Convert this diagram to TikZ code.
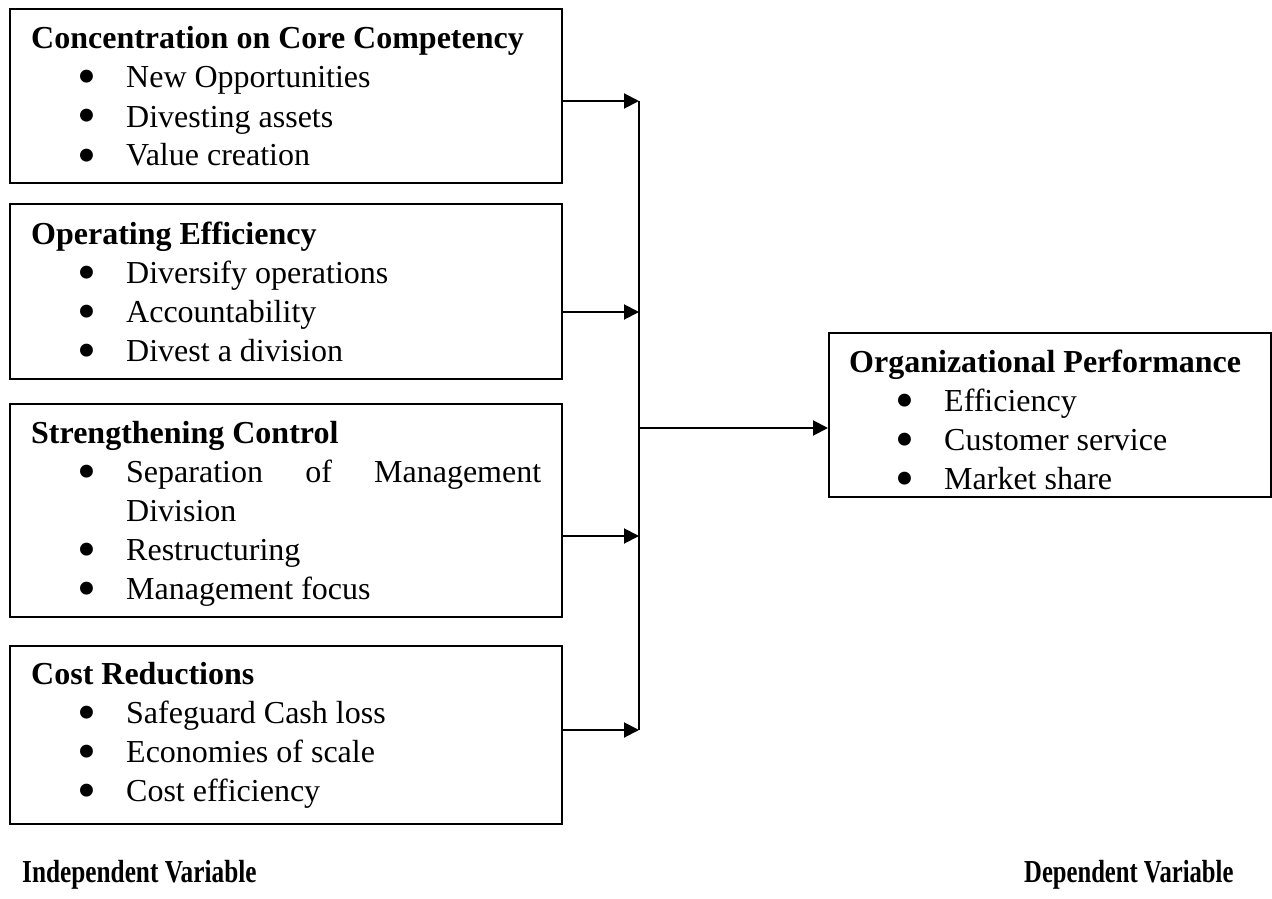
\documentclass[tikz,border=0pt]{standalone}
\usepackage{fontspec}
\usepackage{graphicx}
\setmainfont{Liberation Serif}
\usetikzlibrary{arrows.meta}

% bullet mark, enlarged and lowered to sit like a list bullet
\newcommand\bul{\raisebox{-7pt}{\fontsize{54}{54}\selectfont\char"2022}}
% one bulleted line: bullet column, then the item text
\newcommand\itm[1]{\par\hspace*{46pt}\makebox[49pt][l]{\bul}#1}
% continuation line of an item
\newcommand\cont[1]{\par\hspace*{95pt}#1}
% heading plus its list, first baseline at the node's base
\newcommand\boxtext[2]{\parbox[t]{560pt}{\bfseries #1\mdseries#2}}

\begin{document}
\begin{tikzpicture}[x=1pt,y=-1pt,
  framebox/.style={draw,line width=2pt,inner sep=0pt,anchor=north west},
  txt/.style={anchor=base west,inner sep=0pt,font=\fontsize{32}{39}\selectfont},
  wire/.style={line width=2pt},
  conn/.style={line width=2pt,-{Triangle[length=15pt,width=15pt]}},
  varlabel/.style={anchor=base west,inner sep=0pt,font=\fontsize{32}{39}\selectfont\bfseries}]
\useasboundingbox (0,0) rectangle (1272,899);

% independent-variable boxes
\node[framebox,minimum width=552pt,minimum height=174pt] (b1) at (9,8) {};
\node[framebox,minimum width=552pt,minimum height=175pt] (b2) at (9,203) {};
\node[framebox,minimum width=552pt,minimum height=213pt] (b3) at (9,403) {};
\node[framebox,minimum width=552pt,minimum height=178pt] (b4) at (9,645) {};

\node[txt] (t1) at (31,49) {\boxtext{Concentration on Core Competency}{%
  \itm{New Opportunities}\itm{Divesting assets}\itm{Value creation}}};
\node[txt] (t2) at (31,244) {\boxtext{Operating Efficiency}{%
  \itm{Diversify operations}\itm{Accountability}\itm{Divest a division}}};
\node[txt] (t3) at (31,443) {\boxtext{Strengthening Control}{%
  \itm{\makebox[415pt][l]{Separation\hfill of\hfill Management}}%
  \cont{Division}\itm{Restructuring}\itm{Management focus}}};
\node[txt] (t4) at (31,684) {\boxtext{Cost Reductions}{%
  \itm{Safeguard Cash loss}\itm{Economies of scale}\itm{Cost efficiency}}};

% dependent-variable box
\node[framebox,minimum width=442pt,minimum height=164pt] (out) at (828,332) {};
\node[txt] (t5) at (849,372) {\boxtext{Organizational Performance}{%
  \itm{Efficiency}\itm{Customer service}\itm{Market share}}};

% junction points on the collecting line
\coordinate (j1) at (639,101);
\coordinate (j2) at (639,312);
\coordinate (j3) at (639,536);
\coordinate (j4) at (639,730);
\coordinate (jo) at (639,428);

\draw[wire] (j1) -- (j4);
\draw[conn] (b1.east |- j1) -- (j1);
\draw[conn] (b2.east |- j2) -- (j2);
\draw[conn] (b3.east |- j3) -- (j3);
\draw[conn] (b4.east |- j4) -- (j4);
\draw[conn] (jo) -- (out.west |- jo);

% captions
\node[varlabel] (iv) at (22,882) {\scalebox{0.79}[1]{Independent Variable}};
\node[varlabel] (dv) at (1024,882) {\scalebox{0.77}[1]{Dependent Variable}};
\end{tikzpicture}
\end{document}
